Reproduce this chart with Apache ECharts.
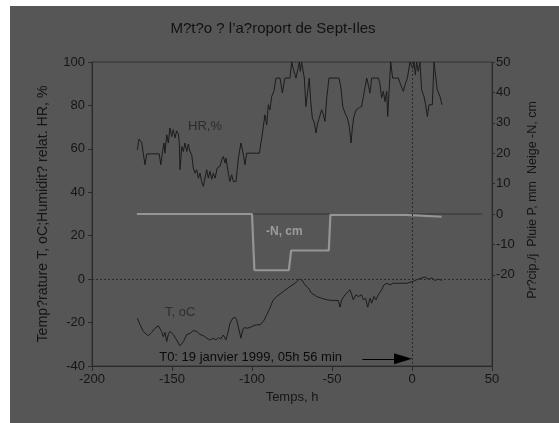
<!DOCTYPE html>
<html>
<head>
<meta charset="utf-8">
<script src="https://cdn.jsdelivr.net/npm/echarts@6/dist/echarts.min.js"></script>
<style>
html,body{margin:0;padding:0;background:#ffffff;}
#chart{position:absolute;left:10px;top:6px;width:549px;height:417px;}
</style>
</head>
<body>
<div id="chart"></div>
<script>
// ---- Data ----
var titleText = 'M?t?o ? l’a?roport de Sept-Iles';
var xTicks = [-200, -150, -100, -50, 0, 50];
var leftTicks = [-40, -20, 0, 20, 40, 60, 80, 100];
var rightTickLabels = [-20, -10, 0, 10, 20, 30, 40, 50];

var hrTime = [-171.7,-170.6,-169,-166.9,-165.8,-162.7,-158,-157,-155.9,-155,-154.4,-153.3,-152.3,-151.3,-150.2,-149.2,-148.1,-147.1,-146,-145.4,-145,-143.9,-142.9,-141.9,-140.8,-139.8,-138.8,-137.7,-136.7,-135.6,-134.6,-133.5,-132.5,-131.5,-130.4,-129.4,-128.3,-127.3,-126.3,-125.2,-124.2,-123.1,-121.7,-120,-118.9,-117.9,-116.9,-116.3,-114.8,-113.8,-112.7,-111.7,-110,-108.5,-106.9,-105.4,-104.4,-103.3,-95.4,-93.9,-91.9,-90.8,-89.8,-88.8,-87.7,-86.3,-85,-82.5,-81.9,-81,-80,-79.4,-76.3,-75.2,-74.2,-73.8,-72.5,-70.4,-69.8,-69,-68,-67.3,-66.3,-65.2,-64.2,-63.3,-62.3,-61,-60,-58.9,-57.9,-56.5,-55.4,-54.4,-53.3,-51.9,-45.6,-44.4,-43.3,-41.9,-40.4,-39.2,-38.1,-37.3,-36.3,-34.9,-32.9,-31.5,-30.4,-29.4,-28.3,-27.1,-26.3,-25.2,-21,-20,-19,-17.9,-16.9,-15.8,-15.2,-13.3,-12.1,-8.5,-7.1,-5.4,-4.4,-2.9,-1.25,-0.2,0.4,1.25,2.1,2.9,3.9,5,6,7.5,8.5,9.6,10.6,12.7,13.75,14.8,15.8,17.5,18.75];
var hrValues = [59.6,64.5,63,52.7,57.6,57.7,57.7,52.7,58.8,62.7,58,66.5,62.7,69.6,65.7,68.8,65,68.3,66.8,62.7,50.4,61.1,58.8,62.7,58.8,62.2,58.8,57.3,51.2,48.8,50.4,46.5,48.8,45,42.7,46.5,50.4,46.5,49.6,46,48.8,46.5,51.2,52,55,56.5,53.5,55.8,48.8,45,48.1,45,45,55.8,62.7,57.3,52.7,58,58,65,75.7,71.1,80.3,78,84.1,86.5,92.6,92.6,89.8,85.7,90.3,92.6,92.6,100,100,95.7,92.6,100,95.7,100,100,92.6,79.5,86.5,92.6,81.8,74.2,71.9,67.3,71.9,72.6,78,75.7,72.6,83.4,92.6,92.6,88,79.5,76.5,74.2,70.3,62.7,69.6,74.9,78,79,79.5,84.1,85,92.6,88.8,85.7,92.6,92.6,89.8,83.4,86.5,81.8,86.5,74.9,100,92.6,92.6,89.5,86.5,89.5,92.6,100,100,97,100,94,100,95.7,100,87.2,84.1,80.3,74.9,80.3,80.3,100,93.3,87.2,84.1,80.3];

var tTime = [-171.7,-170,-167.9,-164.8,-162.7,-160.6,-158.5,-156.5,-155.4,-154.4,-153.3,-152.3,-151.3,-150.2,-149.2,-147.1,-145,-142.9,-140.8,-138.8,-136.7,-134.6,-132.5,-130.4,-128.3,-126.3,-125.2,-124.2,-122.5,-121,-119.6,-117.9,-116.3,-114.8,-113.8,-112,-110.6,-109.6,-108.1,-106.9,-105.8,-104.8,-103.3,-101.3,-99.2,-97.1,-95,-92.9,-91.3,-89.8,-88.8,-87.7,-86.7,-84.6,-80.4,-76.25,-73.1,-70.4,-69,-66.9,-64.8,-62.7,-59.6,-56.5,-53.3,-50.2,-46,-45,-43.9,-41.9,-38.75,-37.7,-36.7,-35,-33.5,-31.5,-30.4,-29,-27.7,-26.25,-25.2,-23.75,-22.5,-21,-19,-17.5,-15.8,-13.75,-11.7,-8.5,-3.3,0.4,2.9,6,8.1,10.2,12.3,14.4,16.5,18.5];
var tValues = [-18,-21,-24.1,-26.1,-24.5,-22.6,-21.5,-24.1,-26.5,-24.5,-28.8,-25.5,-24.1,-23.5,-25.5,-28,-30.7,-28.8,-25.5,-25,-23.7,-24.1,-25.5,-26,-27.2,-28,-28.8,-27.2,-28,-26.9,-27.6,-25.7,-28,-24.1,-20.3,-18,-17.5,-18.7,-23.4,-27.2,-23.4,-22.3,-22.6,-22.3,-21.5,-21,-21,-19.5,-17.2,-14.9,-13.4,-11.1,-9.6,-8,-5.7,-3.4,-1.9,0,-0.3,-2.6,-4.1,-6.5,-8,-8.8,-9.5,-9.8,-9.8,-12.9,-9.5,-7.2,-4.9,-7.2,-9.5,-7.2,-8,-7.2,-9.5,-8.8,-12.9,-8.8,-11.1,-8,-9.5,-7.2,-4.9,-2.6,-1.9,-2.6,-1.9,-1.9,-1.9,-1.1,-0.3,0.5,1,0,0.5,-0.6,0,-0.6];

var snowTime = [-172,-100,-98.5,-77,-75.5,-52,-51,-4,-3,18.5];
var snowValues = [0,0,-18.5,-18.5,-12,-12,-0.3,-0.3,-0.9,-0.9];

var rainTime = [-172, 44];
var rainValues = [0, 0];

var t0Label = 'T0: 19 janvier 1999, 05h 56 min';
var arrowStart = [-31, -36.7];
var arrowEnd = [-5.6, -36.7];

function pairs(xs, ys){ return xs.map(function(x,i){ return [x, ys[i]]; }); }

var FONT = "'Liberation Sans', Arial, sans-serif";
var TXT = '#151515';
var AX = '#2a2a2a';

var chart = echarts.init(document.getElementById('chart'), null, {renderer:'canvas'});
var option = {
  backgroundColor: '#565656',
  animation: false,
  textStyle: {fontFamily: FONT},
  title: {
    text: titleText, left: 258, top: 10, textAlign: 'center',
    textStyle: {fontFamily: FONT, fontSize: 15, fontWeight: 'normal', color: '#111'}
  },
  grid: {left: 82, right: 67, top: 56, bottom: 57, show: true, borderColor: '#333', borderWidth: 1, backgroundColor: 'transparent'},
  xAxis: {
    type: 'value', min: -200, max: 50, interval: 50,
    name: 'Temps, h', nameLocation: 'middle', nameGap: 23,
    nameTextStyle: {fontFamily: FONT, fontSize: 13, color: TXT},
    axisLine: {show: true, onZero: false, lineStyle: {color: AX}},
    axisTick: {show: true, inside: false, length: 5, lineStyle: {color: AX}},
    axisLabel: {fontFamily: FONT, fontSize: 13, color: TXT, margin: 7,
      customValues: xTicks},
    splitLine: {show: false}
  },
  yAxis: [{
    type: 'value', position: 'left', min: -40, max: 100, interval: 20,
    name: 'Temp?rature T, oC;Humidit? relat. HR, %', nameLocation: 'middle', nameGap: 42, nameRotate: 90,
    nameTextStyle: {fontFamily: FONT, fontSize: 14.2, color: TXT},
    axisLine: {show: true, onZero: false, lineStyle: {color: AX}},
    axisTick: {show: true, length: 4, lineStyle: {color: AX}},
    axisLabel: {fontFamily: FONT, fontSize: 13, color: TXT, margin: 7, customValues: leftTicks},
    splitLine: {show: false}
  }, {
    type: 'value', position: 'right', min: -50, max: 50, interval: 10,
    name: 'Pr?cip./j  Pluie P, mm  Neige -N, cm', nameLocation: 'middle', nameGap: 29, nameRotate: 90,
    nameTextStyle: {fontFamily: FONT, fontSize: 12.5, color: TXT, padding: [0, 0, 0, 28]},
    axisLine: {show: true, onZero: false, lineStyle: {color: AX}},
    axisTick: {show: true, length: 3, lineStyle: {color: AX}, customValues: rightTickLabels},
    axisLabel: {fontFamily: FONT, fontSize: 13, color: TXT, margin: 4, customValues: rightTickLabels},
    splitLine: {show: false}
  }],
  series: [
    {
      name: 'P', type: 'line', yAxisIndex: 1, data: pairs(rainTime, rainValues),
      showSymbol: false, symbol: 'none', lineStyle: {color: '#333', width: 1}, z: 2, silent: true
    },
    {
      name: 'N', type: 'line', yAxisIndex: 1, data: pairs(snowTime, snowValues),
      showSymbol: false, symbol: 'none', lineStyle: {color: '#959595', width: 2.2}, z: 3, silent: true,
      markPoint: {
        symbol: 'circle', symbolSize: 0, silent: true,
        data: [{coord: [-91.25, -5.9], label: {show: true, formatter: '-N, cm', position: 'right', distance: 0,
          fontFamily: FONT, fontSize: 12, fontWeight: 'bold', color: '#9c9c9c'}}]
      }
    },
    {
      name: 'HR', type: 'line', yAxisIndex: 0, data: pairs(hrTime, hrValues),
      showSymbol: false, symbol: 'none', lineStyle: {color: '#1c1c1c', width: 1}, z: 4, silent: true,
      markPoint: {
        symbol: 'circle', symbolSize: 0, silent: true,
        data: [{coord: [-140, 70.2], label: {show: true, formatter: 'HR,%', position: 'right', distance: 0,
          fontFamily: FONT, fontSize: 13, color: '#2c2c2c'}}]
      }
    },
    {
      name: 'T', type: 'line', yAxisIndex: 0, data: pairs(tTime, tValues),
      showSymbol: false, symbol: 'none', lineStyle: {color: '#1c1c1c', width: 1}, z: 4, silent: true,
      markPoint: {
        symbol: 'circle', symbolSize: 0, silent: true,
        data: [
          {coord: [-154.4, -15.4], label: {show: true, formatter: 'T, oC', position: 'right', distance: 0,
            fontFamily: FONT, fontSize: 13, color: '#2e2e2e'}},
          {coord: [-158, -36.1], label: {show: true, formatter: t0Label, position: 'right', distance: 0,
            fontFamily: FONT, fontSize: 13, color: '#0a0a0a'}}
        ]
      },
      markLine: {
        silent: true, animation: false,
        data: [
          [{coord: [-200, 0], symbol: 'none', lineStyle: {color: '#2a2a2a', type: [2, 2], width: 1}},
           {coord: [50, 0], symbol: 'none'}],
          [{coord: [0, 100], symbol: 'none', lineStyle: {color: '#2a2a2a', type: [2, 2], width: 1}},
           {coord: [0, -40], symbol: 'none'}],
          [{coord: arrowStart, symbol: 'none', lineStyle: {color: '#000', type: 'solid', width: 1.2}},
           {coord: arrowEnd, symbol: 'triangle', symbolSize: [11, 18]}]
        ],
        label: {show: false},
        lineStyle: {color: '#2a2a2a'},
        emphasis: {disabled: true}
      }
    }
  ]
};
chart.setOption(option);
</script>
</body>
</html>
